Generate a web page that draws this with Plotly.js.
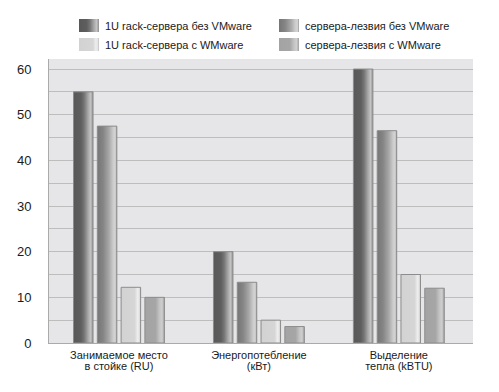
<!DOCTYPE html>
<html><head><meta charset="utf-8">
<script src="https://cdn.plot.ly/plotly-3.0.1.min.js"></script>
<style>body{margin:0;background:#fff}#c{width:499px;height:392px}</style>
</head><body><div id="c"></div>
<script>
const categories = ["Занимаемое место<br>в стойке (RU)", "Энергопотебление<br>(кВт)", "Выделение<br>тепла (kBTU)"];
const seriesNames = ["1U rack-сервера без VMware", "сервера-лезвия без VMware", "1U rack-сервера с WMware", "сервера-лезвия с WMware"];
const rackNoVM = [55, 20, 60];
const bladeNoVM = [47.5, 13.3, 46.5];
const rackVM = [12.2, 5, 15];
const bladeVM = [10, 3.6, 12];
const yTicks = [0, 10, 20, 30, 40, 50, 60];

const gradients = [
  [[0,'#585858'],[0.38,'#5e5e5e'],[0.55,'#767676'],[0.75,'#a8a8a8'],[0.88,'#c4c4c4'],[1,'#8e8e8e']],
  [[0,'#767676'],[0.3,'#858585'],[0.6,'#a8a8a8'],[0.82,'#cdcdcd'],[0.92,'#d4d4d4'],[1,'#9a9a9a']],
  [[0,'#d2d2d2'],[0.7,'#d6d6d6'],[0.84,'#ededed'],[0.93,'#e4e4e4'],[1,'#bdbdbd']],
  [[0,'#a3a3a3'],[0.55,'#a6a6a6'],[0.75,'#c4c4c4'],[0.88,'#cfcfcf'],[1,'#a0a0a0']]
];
const baseColors = ['#666','#8a8a8a','#d4d4d4','#a8a8a8'];
const values = [rackNoVM, bladeNoVM, rackVM, bladeVM];
const FONT = '"Liberation Sans", Arial, sans-serif';

const data = values.map((v, i) => ({
  type: 'bar', x: categories, y: v, name: seriesNames[i],
  marker: {color: baseColors[i], line: {color: '#8c8c8c', width: 1}},
  hoverinfo: 'none'
}));

const layout = {
  width: 499, height: 392,
  margin: {l: 49, r: 26, t: 58, b: 49},
  paper_bgcolor: '#fff', plot_bgcolor: '#e6e6e8',
  font: {family: FONT, color: '#1a1a1a', size: 11},
  barmode: 'group', bargap: 0.32, bargroupgap: 0.18,
  showlegend: true,
  legend: {orientation: 'h', xref: 'container', yref: 'container', x: 65/499, xanchor: 'left', y: 1 - 11/392, yanchor: 'top',
    entrywidth: 155, entrywidthmode: 'pixels', font: {family: FONT, size: 11, color: '#1a1a1a'}, traceorder: 'normal', bgcolor: 'rgba(0,0,0,0)', tracegroupgap: 0},
  xaxis: {range: [-0.5, 2.53], showgrid: false, showline: true, linecolor: '#aaa', ticks: '', ticklabelstandoff: 2,
    tickfont: {family: FONT, size: 11, color: '#1a1a1a'}, fixedrange: true},
  yaxis: {range: [0, 62.2], tickvals: yTicks, showgrid: true, gridcolor: '#bdbdbd', gridwidth: 1,
    minor: {dtick: 5, showgrid: true, gridcolor: '#bdbdbd'},
    zeroline: false, showline: true, linecolor: '#aaa', ticks: '', ticklabelstandoff: 14,
    tickfont: {family: FONT, size: 13, color: '#1a1a1a'}, fixedrange: true}
};

function applyGradients(gd) {
  const svg = gd.querySelector('svg.main-svg');
  const ns = 'http://www.w3.org/2000/svg';
  let defs = svg.querySelector('defs');
  gradients.forEach((stops, i) => {
    const id = 'bargrad' + i;
    if (svg.querySelector('#' + id)) return;
    const lg = document.createElementNS(ns, 'linearGradient');
    lg.setAttribute('id', id);
    lg.setAttribute('x1', '0'); lg.setAttribute('y1', '0');
    lg.setAttribute('x2', '1'); lg.setAttribute('y2', '0');
    stops.forEach(s => {
      const st = document.createElementNS(ns, 'stop');
      st.setAttribute('offset', s[0]);
      st.setAttribute('stop-color', s[1]);
      lg.appendChild(st);
    });
    defs.appendChild(lg);
  });
  gd.querySelectorAll('.barlayer .trace.bars').forEach((tr, i) => {
    tr.querySelectorAll('path').forEach(p => { p.style.fill = 'url(#bargrad' + i + ')'; });
  });
  gd.querySelectorAll('.legend .traces').forEach((tr, i) => {
    tr.querySelectorAll('.legendpoints path').forEach(p => {
      p.setAttribute('d', 'M-6,-6.5H14V6.5H-6Z');
      p.style.fill = 'url(#bargrad' + i + ')';
      p.style.stroke = 'none';
    });
  });
  // tighter line spacing for the category labels
  gd.querySelectorAll('.xtick text tspan.line').forEach((t, k) => {
    if (t.getAttribute('dy') && t.getAttribute('dy') !== '0em') t.setAttribute('dy', '0.95em');
  });
}

Plotly.newPlot('c', data, layout, {displayModeBar: false, staticPlot: true}).then(applyGradients);
</script></body></html>
